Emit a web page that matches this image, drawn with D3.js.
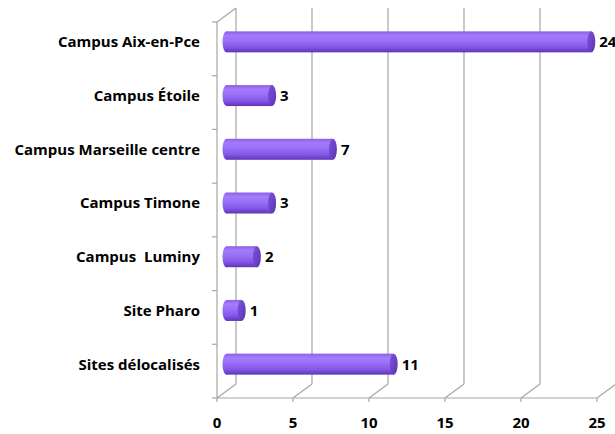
<!DOCTYPE html>
<html>
<head>
<meta charset="utf-8">
<script src="https://cdn.jsdelivr.net/npm/d3@7"></script>
<style>
  html, body { margin: 0; padding: 0; background: #fff; }
  svg { display: block; }
  text { font-family: "Open Sans", Lato, sans-serif; font-weight: bold; fill: #000; }
</style>
</head>
<body>
<svg id="chart" width="615" height="434"></svg>
<script>
// Sites and their counts (top to bottom)
const categories = [
  "Campus Aix-en-Pce",
  "Campus Étoile",
  "Campus Marseille centre",
  "Campus Timone",
  "Campus  Luminy",
  "Site Pharo",
  "Sites délocalisés"
];
const values = [24, 3, 7, 3, 2, 1, 11];
const xTicks = [0, 5, 10, 15, 20, 25];

const svg = d3.select("#chart");

// Front plane of the 3D box and its depth offset toward the back wall
const plotLeft = 217, plotRight = 597, plotTop = 22, plotBottom = 398;
const depthX = 19, depthY = -14;

const x = d3.scaleLinear().domain([0, 25]).range([plotLeft, plotRight]);
const y = d3.scaleBand().domain(categories).range([plotTop, plotBottom]).padding(0);

const wallColor = "#a6a6a6";
const grid = svg.append("g").attr("fill", "none").attr("stroke", wallColor).attr("stroke-width", 1.2);

// Back-wall gridlines plus their floor diagonals
xTicks.forEach(t => {
  const fx = x(t);
  const backX = fx + depthX;
  grid.append("line")
    .attr("x1", backX).attr("x2", backX)
    .attr("y1", plotTop + depthY).attr("y2", plotBottom + depthY);
  grid.append("line")
    .attr("x1", fx).attr("x2", backX)
    .attr("y1", plotBottom).attr("y2", plotBottom + depthY);
});

// Left wall: vertical edge and top diagonal
grid.append("line").attr("x1", plotLeft).attr("x2", plotLeft).attr("y1", plotTop).attr("y2", plotBottom);
grid.append("line").attr("x1", plotLeft).attr("x2", plotLeft + depthX).attr("y1", plotTop).attr("y2", plotTop + depthY);
// Floor front edge
grid.append("line").attr("x1", plotLeft).attr("x2", x(25)).attr("y1", plotBottom).attr("y2", plotBottom);

// Category boundary ticks on the left wall
const bounds = categories.map(c => y(c)).concat([plotBottom]);
bounds.forEach(b => {
  grid.append("line").attr("x1", plotLeft - 5).attr("x2", plotLeft).attr("y1", b).attr("y2", b);
});

// Value axis ticks on the floor front edge
xTicks.forEach(t => {
  grid.append("line").attr("x1", x(t)).attr("x2", x(t)).attr("y1", plotBottom).attr("y2", plotBottom + 4);
});

// Cylinder shading
const defs = svg.append("defs");
const grad = defs.append("linearGradient").attr("id", "cyl").attr("x1", 0).attr("y1", 0).attr("x2", 0).attr("y2", 1);
[[0, "#8a5ee8"], [0.2, "#a47cfb"], [0.45, "#9a6ff6"], [0.75, "#8456ea"], [1, "#5e36b4"]]
  .forEach(([o, c]) => grad.append("stop").attr("offset", o).attr("stop-color", c));
const capGrad = defs.append("linearGradient").attr("id", "cap").attr("x1", 0).attr("y1", 0).attr("x2", 1).attr("y2", 1);
[[0, "#7f52df"], [1, "#5a34ad"]].forEach(([o, c]) => capGrad.append("stop").attr("offset", o).attr("stop-color", c));

const barH = 21, capRx = 4;
const fontSize = 15;
const bars = svg.append("g");
categories.forEach((c, i) => {
  const cy = y(c) + y.bandwidth() / 2 + depthY / 2;
  const x0 = x(0) + depthX / 2;
  const x1 = x(values[i]) + depthX / 2;
  const g = bars.append("g");
  // body with rounded back end
  g.append("ellipse").attr("cx", x0).attr("cy", cy).attr("rx", capRx).attr("ry", barH / 2).attr("fill", "url(#cyl)");
  g.append("rect").attr("x", x0).attr("y", cy - barH / 2).attr("width", x1 - x0).attr("height", barH).attr("fill", "url(#cyl)");
  // front cap
  g.append("ellipse").attr("cx", x1).attr("cy", cy).attr("rx", capRx).attr("ry", barH / 2).attr("fill", "url(#cap)");
  // value label
  svg.append("text")
    .attr("x", x1 + capRx + 4).attr("y", cy).attr("dy", "0.36em")
    .attr("font-size", fontSize).text(values[i]);
});

// Category labels
svg.append("g").selectAll("text").data(categories).join("text")
  .attr("x", 200).attr("y", d => y(d) + y.bandwidth() / 2 + depthY / 2)
  .attr("dy", "0.36em").attr("text-anchor", "end").attr("font-size", fontSize)
  .attr("xml:space", "preserve").style("white-space", "pre")
  .text(d => d);

// Value axis labels
svg.append("g").selectAll("text").data(xTicks).join("text")
  .attr("x", d => x(d)).attr("y", 423).attr("dy", "0.36em")
  .attr("text-anchor", "middle").attr("font-size", fontSize)
  .text(d => d);
</script>
</body>
</html>
